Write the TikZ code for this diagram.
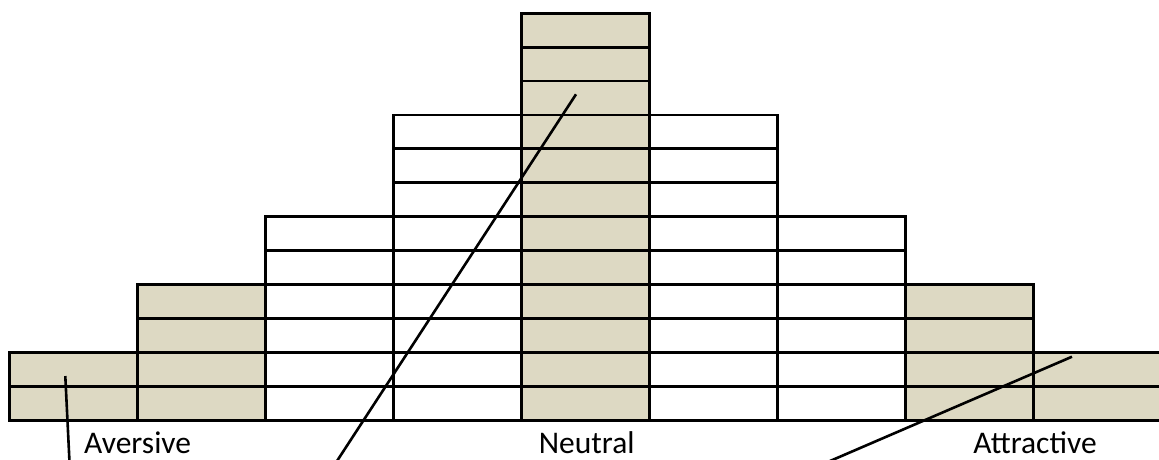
\documentclass[tikz,border=0pt]{standalone}
\usepackage{fontspec}
\setmainfont{Carlito}
\definecolor{tan}{RGB}{221,217,195}
\begin{document}
\begin{tikzpicture}[x=1pt,y=-1pt,
  cell/.style={draw=black,line width=2.9pt},
  shaded/.style={cell,fill=tan},
  plain/.style={cell,fill=white},
  pointer/.style={draw=black,line width=2.6pt},
  lbl/.style={font=\fontsize{31.5}{33}\selectfont,inner sep=0pt,text depth=0pt}]
\useasboundingbox (0,0) rectangle (1159,459);
\begin{scope}
\clip (0,0) rectangle (1159,459);
\def\rh{33.95}
\def\yb{420.5}
\foreach \i/\h/\s in {0/2/shaded,1/4/shaded,2/6/plain,3/9/plain,4/12/shaded,5/9/plain,6/6/plain,7/4/shaded,8/2/shaded}{
  \pgfmathsetmacro\xl{9.5+128*\i}
  \pgfmathsetmacro\xr{\xl+128}
  \foreach \k in {1,...,\h}{
    \pgfmathsetmacro\ya{\yb-\rh*(\k-1)}
    \pgfmathsetmacro\yt{\yb-\rh*\k}
    \path[\s] (\xl,\ya) rectangle (\xr,\yt);
  }
}
\end{scope}
\coordinate (a1) at (65.3,376);
\coordinate (a2) at (69.5,462);
\coordinate (n1) at (576,94.3);
\coordinate (n2) at (337,461);
\coordinate (t1) at (1072,356.7);
\coordinate (t2) at (830,461);
\draw[pointer] (a1) -- (a2);
\draw[pointer] (n1) -- (n2);
\draw[pointer] (t1) -- (t2);
\node[lbl,anchor=base west] (aversive) at (84,453.5) {Aversive};
\node[lbl,anchor=base] (neutral) at (586.7,453.5) {Neutral};
\node[lbl,anchor=base] (attractive) at (1035,453.5) {Attractive};
\end{tikzpicture}
\end{document}
